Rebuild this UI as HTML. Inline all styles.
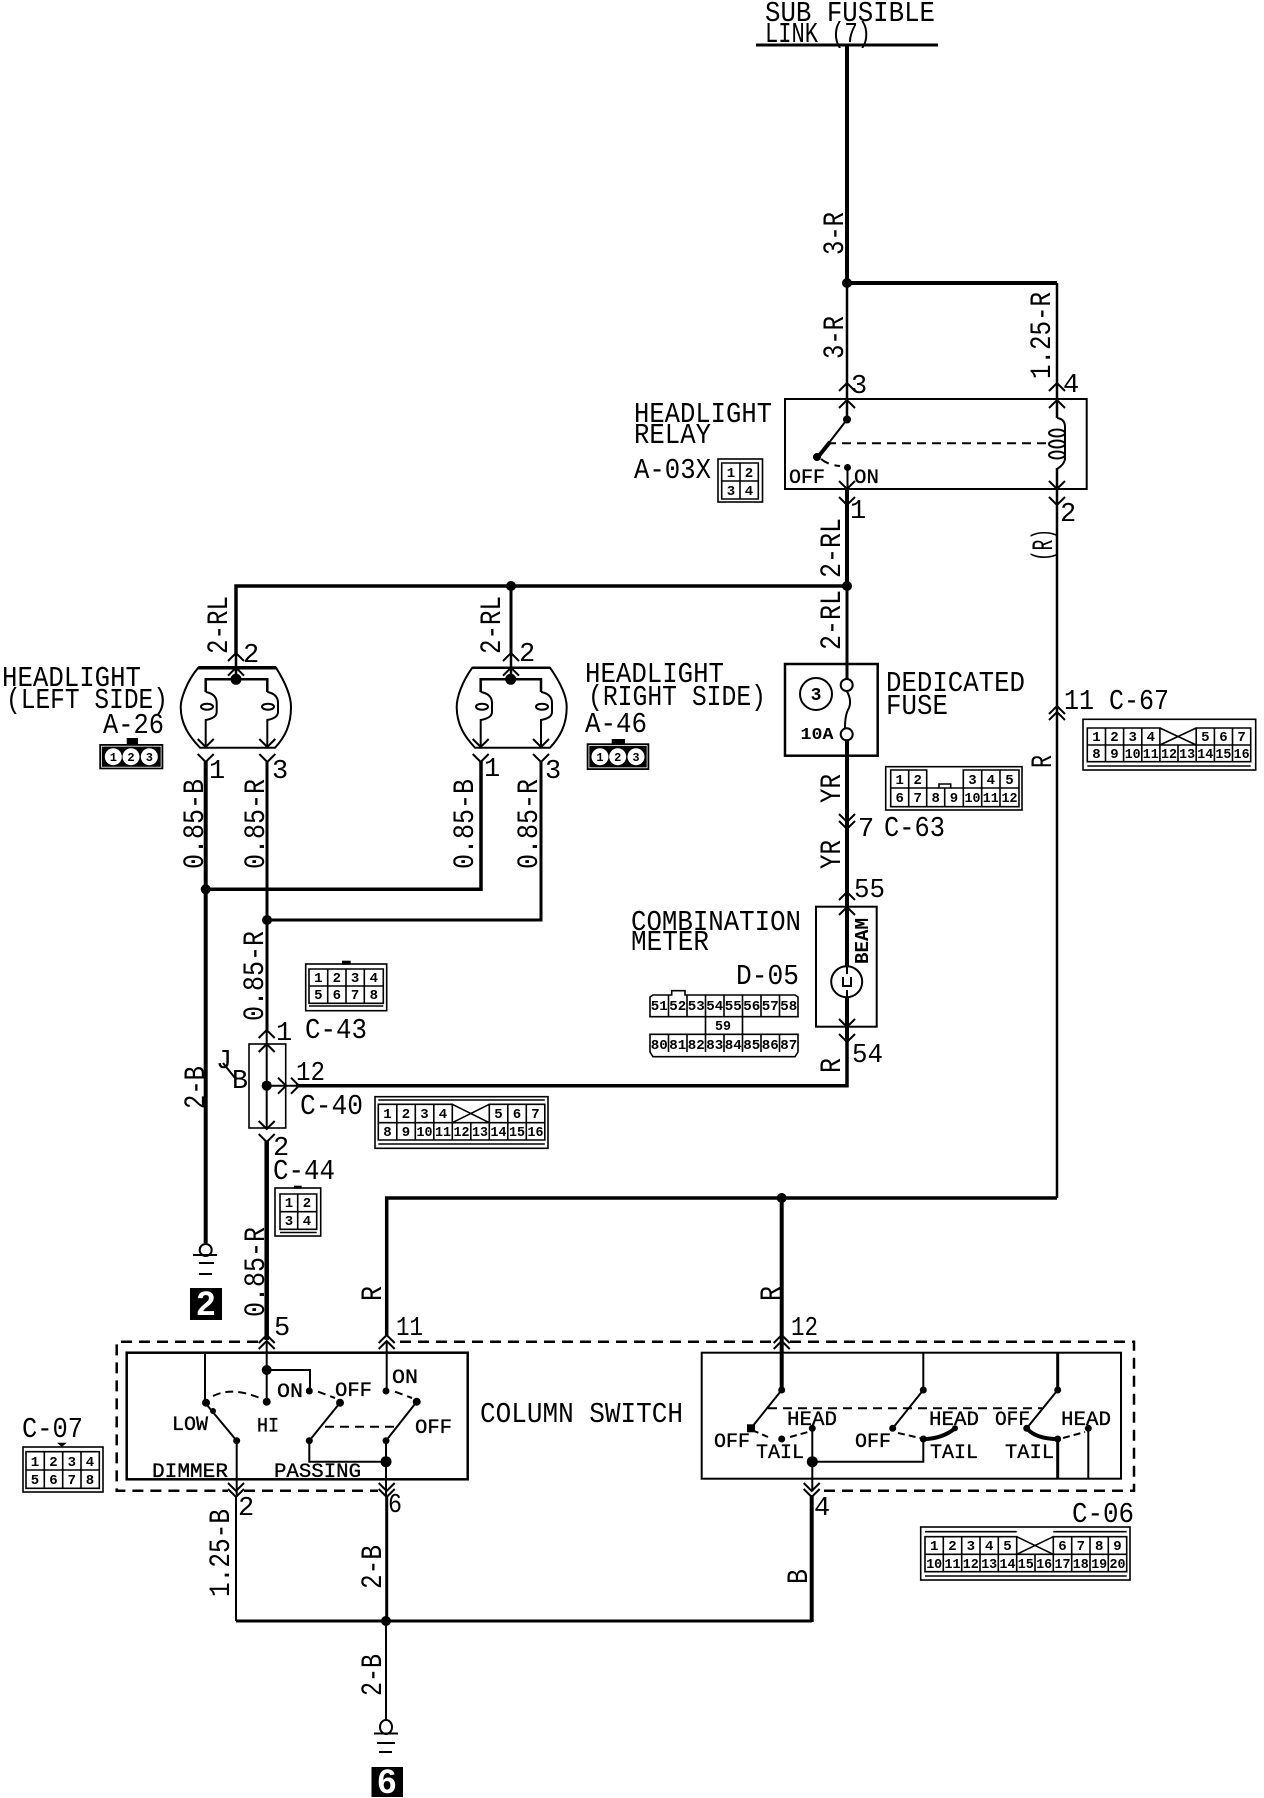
<!DOCTYPE html>
<html><head><meta charset="utf-8"><style>
html,body{margin:0;padding:0;background:#fff;width:1264px;height:1798px;overflow:hidden}
svg{display:block}
text{font-family:"Liberation Mono","DejaVu Sans Mono",monospace;fill:#000}
.l{font-size:29px}
.m{font-size:27px}
.s{font-size:20px;stroke:#000;stroke-width:.35px}
.r{font-size:30px}
.c{font-size:14px;font-weight:bold;text-anchor:middle}
.w{fill:none;stroke:#000;stroke-linejoin:miter}
.k{fill:#000;stroke:none}
.b{fill:none;stroke:#000;stroke-width:1.6}
.d{fill:none;stroke:#000;stroke-width:2;stroke-dasharray:9 6}
.a{fill:none;stroke:#000;stroke-width:2}
</style></head><body>
<svg xmlns="http://www.w3.org/2000/svg" width="1264" height="1798" viewBox="0 0 1264 1798">
<defs>
<path id="u" d="M-8 8L0 0L8 8" class="a"/>
<path id="n" d="M-8 -8L0 0L8 -8" class="a"/>
<path id="g" d="M9 -8L17 0L9 8" class="a"/>
</defs>
<rect width="1264" height="1798" fill="#fff"/>

<!-- wires -->
<g class="w">
<path stroke-width="3" d="M756 45H938"/>
<path stroke-width="4" d="M847 45V283H1057"/>
<path stroke-width="2.5" d="M847 283V420M1057 283V418"/>
<path stroke-width="4" d="M847 489V586"/>
<path stroke-width="3.5" d="M236 653V586H847"/>
<path stroke-width="3" d="M511 586V653"/>
<path stroke-width="3" d="M847 586V679"/>
<path stroke-width="4" d="M847 740V1042"/>
<path stroke-width="2" d="M847 892V965M847 998V1027"/>
<path stroke-width="3.5" d="M847 1042V1085.7H296"/>
<path stroke-width="2.5" d="M1057 468V1198"/>
<path stroke-width="3.5" d="M386.700 1335V1198H1057"/>
<path stroke-width="4" d="M781.700 1198V1390"/>
<path stroke-width="4" d="M205.700 761V1243"/>
<path stroke-width="3.500" d="M205.700 889.300H481V761"/>
<path stroke-width="3" d="M267 761V1030"/>
<path stroke-width="3" d="M267 920H541V761"/>
<path stroke-width="2" d="M266.700 1030V1129M266.700 1085.700H296"/>
<path stroke-width="4.500" d="M266.700 1141V1340"/>
<path stroke-width="2" d="M236 1497V1621M386 1621V1720"/>
<path stroke-width="3" d="M386.700 1495V1621M236 1621H811.700"/>
<path stroke-width="4" d="M811.700 1495V1622"/>
</g>

<!-- sub fusible link -->
<text class="l" x="765" y="21" textLength="170" lengthAdjust="spacingAndGlyphs">SUB FUSIBLE</text>
<text class="l" x="765" y="42" textLength="106" lengthAdjust="spacingAndGlyphs">LINK (7)</text>

<!-- wire labels -->
<text class="r" transform="translate(843 255) rotate(-90)" textLength="43" lengthAdjust="spacingAndGlyphs">3-R</text>
<text class="r" transform="translate(843 359) rotate(-90)" textLength="43" lengthAdjust="spacingAndGlyphs">3-R</text>
<text class="r" transform="translate(1050 379) rotate(-90)" textLength="87" lengthAdjust="spacingAndGlyphs">1.25-R</text>
<text class="r" transform="translate(840 578) rotate(-90)" textLength="60" lengthAdjust="spacingAndGlyphs">2-RL</text>
<text class="r" transform="translate(840 650) rotate(-90)" textLength="60" lengthAdjust="spacingAndGlyphs">2-RL</text>
<text class="r" transform="translate(1052 561) rotate(-90)" textLength="32" lengthAdjust="spacingAndGlyphs">(R)</text>
<text class="r" transform="translate(227 654) rotate(-90)" textLength="58" lengthAdjust="spacingAndGlyphs">2-RL</text>
<text class="r" transform="translate(500 654) rotate(-90)" textLength="58" lengthAdjust="spacingAndGlyphs">2-RL</text>
<text class="r" transform="translate(203 869) rotate(-90)" textLength="90" lengthAdjust="spacingAndGlyphs">0.85-B</text>
<text class="r" transform="translate(264 869) rotate(-90)" textLength="90" lengthAdjust="spacingAndGlyphs">0.85-R</text>
<text class="r" transform="translate(473 869) rotate(-90)" textLength="90" lengthAdjust="spacingAndGlyphs">0.85-B</text>
<text class="r" transform="translate(537 869) rotate(-90)" textLength="90" lengthAdjust="spacingAndGlyphs">0.85-R</text>
<text class="r" transform="translate(263 1021) rotate(-90)" textLength="90" lengthAdjust="spacingAndGlyphs">0.85-R</text>
<text class="r" transform="translate(204 1109) rotate(-90)" textLength="43" lengthAdjust="spacingAndGlyphs">2-B</text>
<text class="r" transform="translate(264 1317) rotate(-90)" textLength="90" lengthAdjust="spacingAndGlyphs">0.85-R</text>
<text class="r" transform="translate(381 1301) rotate(-90)" textLength="15" lengthAdjust="spacingAndGlyphs">R</text>
<text class="r" transform="translate(780 1301) rotate(-90)" textLength="15" lengthAdjust="spacingAndGlyphs">R</text>
<text class="r" transform="translate(840 803) rotate(-90)" textLength="29" lengthAdjust="spacingAndGlyphs">YR</text>
<text class="r" transform="translate(840 869) rotate(-90)" textLength="29" lengthAdjust="spacingAndGlyphs">YR</text>
<text class="r" transform="translate(840 1073) rotate(-90)" textLength="15" lengthAdjust="spacingAndGlyphs">R</text>
<text class="r" transform="translate(1051 768) rotate(-90)" textLength="13" lengthAdjust="spacingAndGlyphs">R</text>
<text class="r" transform="translate(229 1597) rotate(-90)" textLength="88" lengthAdjust="spacingAndGlyphs">1.25-B</text>
<text class="r" transform="translate(381 1589) rotate(-90)" textLength="44" lengthAdjust="spacingAndGlyphs">2-B</text>
<text class="r" transform="translate(381 1696) rotate(-90)" textLength="42" lengthAdjust="spacingAndGlyphs">2-B</text>
<text class="r" transform="translate(807 1584) rotate(-90)" textLength="15" lengthAdjust="spacingAndGlyphs">B</text>

<!-- relay -->
<rect x="785" y="399" width="301.700" height="90" class="w" stroke-width="2"/>
<use href="#u" x="847" y="383"/><use href="#u" x="847" y="400"/>
<use href="#u" x="1057" y="383"/><use href="#u" x="1057" y="400"/>
<use href="#n" x="847" y="489"/><use href="#n" x="847" y="505"/>
<use href="#n" x="1057" y="489"/><use href="#n" x="1057" y="505"/>
<circle cx="847" cy="419.500" r="4" class="k"/>
<path d="M847 419.500L818 457" class="a" stroke-width="2"/>
<path d="M830 442L818 457" class="w" stroke-width="4"/>
<circle cx="817" cy="457" r="4" class="k"/>
<circle cx="847.500" cy="467.500" r="3.500" class="k"/>
<path d="M847.500 467.500V489" class="a"/>
<path d="M827 443.300H1050" class="d"/>
<path d="M821 459Q828 465 840 466" class="d" stroke-dasharray="5 4"/>
<path d="M1057 418Q1065 419 1065 427V458Q1065 464 1057 469V489" class="a"/>
<ellipse cx="1057" cy="433" rx="8" ry="3.500" class="a"/>
<ellipse cx="1057" cy="444" rx="8" ry="3.500" class="a"/>
<ellipse cx="1057" cy="455" rx="8" ry="3.500" class="a"/>
<text class="s" x="789" y="483" textLength="36" lengthAdjust="spacingAndGlyphs">OFF</text>
<text class="s" x="854" y="483" textLength="25" lengthAdjust="spacingAndGlyphs">ON</text>
<text class="l" x="634" y="422" textLength="138" lengthAdjust="spacingAndGlyphs">HEADLIGHT</text>
<text class="l" x="634" y="443" textLength="77" lengthAdjust="spacingAndGlyphs">RELAY</text>
<text class="l" x="634" y="478" textLength="77" lengthAdjust="spacingAndGlyphs">A-03X</text>
<rect x="718" y="459" width="44.500" height="43" class="b"/>
<path d="M721.700 463H758.300V499H721.700ZM740 463V499M721.700 481H758.300" class="b"/>
<text class="c" x="731" y="477">1</text><text class="c" x="749" y="477">2</text>
<text class="c" x="731" y="495">3</text><text class="c" x="749" y="495">4</text>
<text class="m" x="851" y="393">3</text>
<text class="m" x="1063" y="392">4</text>
<text class="m" x="850" y="518">1</text>
<text class="m" x="1060" y="521">2</text>

<!-- junction dots -->
<g class="k">
<circle cx="847" cy="283" r="5"/><circle cx="847" cy="586" r="5"/><circle cx="511" cy="586" r="5"/>
<circle cx="205.700" cy="889.300" r="5"/><circle cx="267" cy="920" r="5"/>
<circle cx="266.700" cy="1085.700" r="5"/><circle cx="781.700" cy="1198" r="5"/><circle cx="386" cy="1621" r="5"/>
</g>

<!-- left headlight -->
<path d="M198.300 667.700C186 682 180.700 700 180.700 707C180.700 725 190 737 200 747.700H275C285 737 291 725 291 707C291 695 285 682 276 667.700Z" class="a"/>
<path d="M198.300 667.700H276" class="w" stroke-width="3.500"/>
<path d="M236 653V679M205.700 692V679.300H267.300V692" class="w" stroke-width="2.500"/>
<path d="M205.700 692Q216.700 694 216.700 703V712Q216.700 718 205.700 720V747M267.300 692Q278 694 278 703V712Q278 718 267.300 720V747" class="a"/>
<ellipse cx="207" cy="706.700" rx="6" ry="3" class="a"/><ellipse cx="268" cy="706.700" rx="6" ry="3" class="a"/>
<circle cx="236" cy="679.300" r="5.500" class="k"/>
<use href="#u" x="236" y="653"/><use href="#u" x="236" y="667.700"/>
<use href="#n" x="205.700" y="747"/><use href="#n" x="205.700" y="762"/>
<use href="#n" x="267.300" y="747"/><use href="#n" x="267.300" y="762"/>
<text class="m" x="243" y="662">2</text><text class="m" x="209" y="778">1</text><text class="m" x="272" y="778">3</text>
<text class="l" x="2" y="686" textLength="139" lengthAdjust="spacingAndGlyphs">HEADLIGHT</text>
<text class="l" x="6" y="708" textLength="162" lengthAdjust="spacingAndGlyphs">(LEFT SIDE)</text>
<text class="l" x="103" y="733" textLength="61" lengthAdjust="spacingAndGlyphs">A-26</text>
<rect x="99.300" y="744" width="64" height="25.300" class="k"/>
<rect x="101.500" y="746.200" width="59.600" height="21" fill="none" stroke="#fff" stroke-width=".8"/>
<rect x="126.700" y="738" width="11.300" height="6" class="k"/>
<circle cx="113.300" cy="756.700" r="8.500" fill="#fff"/><circle cx="131" cy="756.700" r="8.500" fill="#fff"/><circle cx="149.300" cy="756.700" r="8.500" fill="#fff"/>
<text class="c" x="113.300" y="761" style="font-size:12px">1</text><text class="c" x="131" y="761" style="font-size:12px">2</text><text class="c" x="149.300" y="761" style="font-size:12px">3</text>

<!-- right headlight -->
<path d="M472.300 667.700C462 682 456.700 697 456.700 707C456.700 725 465 737 475 747.700H550C560 737 566.700 725 566.700 707C566.700 695 560 682 550 667.700Z" class="a"/>
<path d="M472.300 667.700H550" class="w" stroke-width="2.500"/>
<path d="M511 653V679M480.700 692V679.300H541V692" class="w" stroke-width="2.500"/>
<path d="M480.700 692Q492 694 492 703V712Q492 718 480.700 720V747M541 692Q552 694 552 703V712Q552 718 541 720V747" class="a"/>
<ellipse cx="482" cy="706.700" rx="6" ry="3" class="a"/><ellipse cx="542" cy="706.700" rx="6" ry="3" class="a"/>
<circle cx="510.700" cy="679.300" r="5.500" class="k"/>
<use href="#u" x="511" y="653"/><use href="#u" x="511" y="667.700"/>
<use href="#n" x="480.700" y="747"/><use href="#n" x="480.700" y="762"/>
<use href="#n" x="541" y="747"/><use href="#n" x="541" y="762"/>
<text class="m" x="519" y="661">2</text><text class="m" x="484" y="776">1</text><text class="m" x="545" y="778">3</text>
<text class="l" x="585" y="682" textLength="139" lengthAdjust="spacingAndGlyphs">HEADLIGHT</text>
<text class="l" x="588" y="705" textLength="178" lengthAdjust="spacingAndGlyphs">(RIGHT SIDE)</text>
<text class="l" x="585" y="732" textLength="62" lengthAdjust="spacingAndGlyphs">A-46</text>
<rect x="586.700" y="743.300" width="62.600" height="26.700" class="k"/>
<rect x="588.900" y="745.500" width="58.200" height="22.300" fill="none" stroke="#fff" stroke-width=".8"/>
<rect x="611.700" y="739" width="13.300" height="5" class="k"/>
<circle cx="600" cy="756.700" r="8.500" fill="#fff"/><circle cx="617.700" cy="756.700" r="8.500" fill="#fff"/><circle cx="636" cy="756.700" r="8.500" fill="#fff"/>
<text class="c" x="600" y="761" style="font-size:12px">1</text><text class="c" x="617.700" y="761" style="font-size:12px">2</text><text class="c" x="636" y="761" style="font-size:12px">3</text>

<!-- fuse -->
<rect x="785" y="664" width="92.700" height="91.700" class="w" stroke-width="2.500"/>
<circle cx="816" cy="694" r="16" class="a"/>
<text class="c" x="816" y="700" style="font-size:18px">3</text>
<text class="c" x="817" y="739" style="font-size:17px" textLength="33" lengthAdjust="spacingAndGlyphs">10A</text>
<circle cx="846.700" cy="685" r="6" class="a"/><circle cx="846.700" cy="734.300" r="6" class="a"/>
<path d="M846.700 691Q852 700 849 708Q845 714 845 728" class="a"/>
<text class="l" x="886" y="691" textLength="139" lengthAdjust="spacingAndGlyphs">DEDICATED</text>
<text class="l" x="886" y="714" textLength="62" lengthAdjust="spacingAndGlyphs">FUSE</text>

<!-- C-63 -->
<use href="#n" x="847" y="822"/><use href="#n" x="847" y="829"/>
<text class="m" x="858" y="836">7</text>
<text class="l" x="884" y="836" textLength="61" lengthAdjust="spacingAndGlyphs">C-63</text>
<rect x="885.700" y="766.700" width="136.300" height="43.300" class="b"/>
<path d="M890.700 770H926.700V788H890.700ZM908.700 770V788M963.300 770H1019V788H963.300ZM981.700 770V788M1000 770V788M890.700 788H1019V806.700H890.700ZM908.700 788V806.700M926.700 788V806.700M944.700 788V806.700M963.300 788V806.700M981.700 788V806.700M1000 788V806.700M939 788V784H950.700V788" class="b"/>
<text class="c" x="899.700" y="784">1</text><text class="c" x="917.700" y="784">2</text><text class="c" x="972.500" y="784">3</text><text class="c" x="990.800" y="784">4</text><text class="c" x="1009.500" y="784">5</text>
<text class="c" x="899.700" y="802">6</text><text class="c" x="917.700" y="802">7</text><text class="c" x="935.700" y="802">8</text><text class="c" x="954" y="802">9</text><text class="c" x="972.500" y="802" textLength="16" lengthAdjust="spacingAndGlyphs">10</text><text class="c" x="990.800" y="802" textLength="16" lengthAdjust="spacingAndGlyphs">11</text><text class="c" x="1009.500" y="802" textLength="16" lengthAdjust="spacingAndGlyphs">12</text>

<!-- C-67 -->
<use href="#u" x="1057" y="706"/><use href="#u" x="1057" y="712"/>
<text class="l" x="1064" y="709" textLength="105" lengthAdjust="spacingAndGlyphs">11 C-67</text>
<rect x="1083" y="719.300" width="172.700" height="50.700" class="b"/>
<path d="M1087.300 728H1159.900V745H1087.300ZM1105.500 728V745M1123.600 728V745M1141.800 728V745M1196.200 728H1250.700V745H1196.200ZM1214.400 728V745M1232.500 728V745M1087.300 745H1250.700V761.700H1087.300ZM1105.500 745V761.700M1123.600 745V761.700M1141.800 745V761.700M1159.900 745V761.700M1178 745V761.700M1196.200 745V761.700M1214.400 745V761.700M1232.500 745V761.700M1159.900 728L1196.200 745M1159.900 745L1196.200 728M1087.300 766H1250.700" class="b"/>
<text class="c" x="1096.400" y="741">1</text><text class="c" x="1114.500" y="741">2</text><text class="c" x="1132.700" y="741">3</text><text class="c" x="1150.800" y="741">4</text><text class="c" x="1205.300" y="741">5</text><text class="c" x="1223.400" y="741">6</text><text class="c" x="1241.600" y="741">7</text>
<text class="c" x="1096.400" y="758">8</text><text class="c" x="1114.500" y="758">9</text><text class="c" x="1132.700" y="758" textLength="16" lengthAdjust="spacingAndGlyphs">10</text><text class="c" x="1150.800" y="758" textLength="16" lengthAdjust="spacingAndGlyphs">11</text><text class="c" x="1169" y="758" textLength="16" lengthAdjust="spacingAndGlyphs">12</text><text class="c" x="1187.100" y="758" textLength="16" lengthAdjust="spacingAndGlyphs">13</text><text class="c" x="1205.300" y="758" textLength="16" lengthAdjust="spacingAndGlyphs">14</text><text class="c" x="1223.400" y="758" textLength="16" lengthAdjust="spacingAndGlyphs">15</text><text class="c" x="1241.600" y="758" textLength="16" lengthAdjust="spacingAndGlyphs">16</text>

<!-- meter -->
<rect x="816" y="906.700" width="60.700" height="120" class="w" stroke-width="2"/>
<use href="#u" x="847" y="892"/><use href="#u" x="847" y="907"/>
<use href="#n" x="847" y="1027"/><use href="#n" x="847" y="1042"/>
<circle cx="846.700" cy="981.700" r="15.500" fill="#fff" stroke="#000" stroke-width="2"/>
<path d="M847 966V974M847 990V997M843 977V986H851V977" class="a"/>
<text transform="translate(868 964) rotate(-90)" style="font-size:19px;font-weight:bold" textLength="46" lengthAdjust="spacingAndGlyphs">BEAM</text>
<text class="m" x="854" y="897" textLength="31" lengthAdjust="spacingAndGlyphs">55</text>
<text class="m" x="852" y="1062" textLength="31" lengthAdjust="spacingAndGlyphs">54</text>
<text class="l" x="631" y="930" textLength="170" lengthAdjust="spacingAndGlyphs">COMBINATION</text>
<text class="l" x="631" y="950" textLength="78" lengthAdjust="spacingAndGlyphs">METER</text>
<text class="l" x="736" y="984" textLength="63" lengthAdjust="spacingAndGlyphs">D-05</text>
<path d="M650 1016.700V997L653 995H671.700V990.700H685V995H795L798 997V1016.700ZM668.500 995V1016.700M687 995V1016.700M705.500 995V1034.300M724 995V1016.700M742.500 995V1034.300M761 995V1016.700M779.500 995V1016.700M650 1034.300H798V1052L795 1056.700H653L650 1052ZM668.500 1034.300V1052M687 1034.300V1052M705.500 1034.300V1052M724 1034.300V1052M742.500 1034.300V1052M761 1034.300V1052M779.500 1034.300V1052" class="b"/>
<g>
<text class="c" x="659.300" y="1010" textLength="17" lengthAdjust="spacingAndGlyphs">51</text><text class="c" x="677.800" y="1010" textLength="17" lengthAdjust="spacingAndGlyphs">52</text><text class="c" x="696.300" y="1010" textLength="17" lengthAdjust="spacingAndGlyphs">53</text><text class="c" x="714.800" y="1010" textLength="17" lengthAdjust="spacingAndGlyphs">54</text><text class="c" x="733.300" y="1010" textLength="17" lengthAdjust="spacingAndGlyphs">55</text><text class="c" x="751.800" y="1010" textLength="17" lengthAdjust="spacingAndGlyphs">56</text><text class="c" x="770.300" y="1010" textLength="17" lengthAdjust="spacingAndGlyphs">57</text><text class="c" x="788.800" y="1010" textLength="17" lengthAdjust="spacingAndGlyphs">58</text>
<text class="c" x="723" y="1030" textLength="16" lengthAdjust="spacingAndGlyphs">59</text>
<text class="c" x="659.300" y="1049" textLength="17" lengthAdjust="spacingAndGlyphs">80</text><text class="c" x="677.800" y="1049" textLength="17" lengthAdjust="spacingAndGlyphs">81</text><text class="c" x="696.300" y="1049" textLength="17" lengthAdjust="spacingAndGlyphs">82</text><text class="c" x="714.800" y="1049" textLength="17" lengthAdjust="spacingAndGlyphs">83</text><text class="c" x="733.300" y="1049" textLength="17" lengthAdjust="spacingAndGlyphs">84</text><text class="c" x="751.800" y="1049" textLength="17" lengthAdjust="spacingAndGlyphs">85</text><text class="c" x="770.300" y="1049" textLength="17" lengthAdjust="spacingAndGlyphs">86</text><text class="c" x="788.800" y="1049" textLength="17" lengthAdjust="spacingAndGlyphs">87</text>
</g>

<!-- J/B -->
<rect x="249" y="1044" width="36.700" height="84" class="w" stroke-width="1.600"/>
<use href="#u" x="266.700" y="1030"/><use href="#u" x="266.700" y="1044"/>
<use href="#n" x="266.700" y="1129"/><use href="#n" x="266.700" y="1142"/>
<use href="#g" x="269" y="1085.700"/><use href="#g" x="282" y="1085.700"/>
<circle cx="266.700" cy="1085.700" r="5" class="k"/>
<text class="m" x="216" y="1068" textLength="16" lengthAdjust="spacingAndGlyphs">J</text>
<path d="M223 1063L235 1078" class="a"/>
<text class="m" x="232" y="1088" textLength="16" lengthAdjust="spacingAndGlyphs">B</text>
<text class="m" x="276" y="1040">1</text>
<text class="m" x="296" y="1080" textLength="29" lengthAdjust="spacingAndGlyphs">12</text>
<text class="m" x="273" y="1155">2</text>
<text class="l" x="305" y="1038" textLength="62" lengthAdjust="spacingAndGlyphs">C-43</text>
<text class="l" x="300" y="1114" textLength="63" lengthAdjust="spacingAndGlyphs">C-40</text>
<text class="l" x="273" y="1179" textLength="62" lengthAdjust="spacingAndGlyphs">C-44</text>

<!-- C-43 -->
<rect x="342" y="960.700" width="8.700" height="4" class="k"/>
<rect x="305.700" y="964" width="81" height="46.700" class="b"/>
<path d="M309 969H383.300V1003.300H309ZM327.700 969V1003.300M346 969V1003.300M364.300 969V1003.300M309 986H383.300M309 1006H383.300" class="b"/>
<text class="c" x="318.300" y="982">1</text><text class="c" x="336.800" y="982">2</text><text class="c" x="355.100" y="982">3</text><text class="c" x="373.800" y="982">4</text>
<text class="c" x="318.300" y="999">5</text><text class="c" x="336.800" y="999">6</text><text class="c" x="355.100" y="999">7</text><text class="c" x="373.800" y="999">8</text>

<!-- C-40 -->
<rect x="375" y="1096.700" width="173" height="51.600" class="b"/>
<path d="M378.300 1104.300H452.300V1122.700H378.300ZM396.800 1104.300V1122.700M415.300 1104.300V1122.700M433.800 1104.300V1122.700M489.300 1104.300H544.800V1122.700H489.300ZM507.800 1104.300V1122.700M526.300 1104.300V1122.700M378.300 1122.700H544.800V1140H378.300ZM396.800 1122.700V1140M415.300 1122.700V1140M433.800 1122.700V1140M452.300 1122.700V1140M470.800 1122.700V1140M489.300 1122.700V1140M507.800 1122.700V1140M526.300 1122.700V1140M452.300 1104.300L489.300 1122.700M452.300 1122.700L489.300 1104.300M378.300 1144H544.800M378.300 1100H544.800" class="b"/>
<text class="c" x="387.500" y="1118">1</text><text class="c" x="406" y="1118">2</text><text class="c" x="424.500" y="1118">3</text><text class="c" x="443" y="1118">4</text><text class="c" x="498.500" y="1118">5</text><text class="c" x="517" y="1118">6</text><text class="c" x="535.500" y="1118">7</text>
<text class="c" x="387.500" y="1136">8</text><text class="c" x="406" y="1136">9</text><text class="c" x="424.500" y="1136" textLength="16" lengthAdjust="spacingAndGlyphs">10</text><text class="c" x="443" y="1136" textLength="16" lengthAdjust="spacingAndGlyphs">11</text><text class="c" x="461.500" y="1136" textLength="16" lengthAdjust="spacingAndGlyphs">12</text><text class="c" x="480" y="1136" textLength="16" lengthAdjust="spacingAndGlyphs">13</text><text class="c" x="498.500" y="1136" textLength="16" lengthAdjust="spacingAndGlyphs">14</text><text class="c" x="517" y="1136" textLength="16" lengthAdjust="spacingAndGlyphs">15</text><text class="c" x="535.500" y="1136" textLength="16" lengthAdjust="spacingAndGlyphs">16</text>

<!-- C-44 -->
<rect x="294" y="1185.700" width="7.700" height="3" class="k"/>
<rect x="275" y="1188" width="45.700" height="48" class="b"/>
<path d="M280 1194H316.700V1229.300H280ZM297.700 1194V1229.300M280 1211.700H316.700M280 1232.500H316.700" class="b"/>
<text class="c" x="289" y="1207">1</text><text class="c" x="307" y="1207">2</text>
<text class="c" x="289" y="1225">3</text><text class="c" x="307" y="1225">4</text>

<!-- ground 2 -->
<circle cx="205.700" cy="1250" r="6" class="a"/>
<path d="M193 1255H217M199 1263H214M199 1274H212" class="a"/>
<rect x="190" y="1288" width="32" height="32" class="k"/>
<text x="206" y="1315" text-anchor="middle" style="font-family:'Liberation Sans',sans-serif;font-size:34px;font-weight:bold;fill:#fff">2</text>

<!-- ground 6 -->
<ellipse cx="386" cy="1727" rx="6" ry="7" class="a"/>
<path d="M374 1733.500H398M377 1743H395M379 1752H392" class="a"/>
<rect x="371.500" y="1767" width="31.500" height="30" class="k"/>
<text x="387" y="1793" text-anchor="middle" style="font-family:'Liberation Sans',sans-serif;font-size:34px;font-weight:bold;fill:#fff">6</text>

<!-- column switch dashed enclosure -->
<path d="M258 1341.700H116.700V1490.700H228M244 1490.700H378M400 1341.700H774M790 1341.700H1134V1490.700H820" class="w" stroke-width="2.500" stroke-dasharray="11 7"/>
<text class="l" x="480" y="1422" textLength="203" lengthAdjust="spacingAndGlyphs">COLUMN SWITCH</text>

<!-- left switch box -->
<rect x="126.700" y="1352.700" width="341" height="126.600" class="w" stroke-width="2.500"/>
<use href="#u" x="266.700" y="1335"/><use href="#u" x="266.700" y="1341"/>
<use href="#u" x="386.700" y="1335"/><use href="#u" x="386.700" y="1341"/>
<use href="#n" x="236" y="1491"/><use href="#n" x="236" y="1497"/>
<use href="#n" x="386.700" y="1491"/><use href="#n" x="386.700" y="1497"/>
<g class="w" stroke-width="2">
<path d="M205 1352.700V1402.700L236.700 1440.700V1495"/>
<path d="M266.700 1341V1401.700"/>
<path d="M266.700 1370H310V1391"/>
<path d="M340 1402.700L309.300 1440.700V1461.700H386"/>
<path d="M386.700 1341V1391"/>
<path d="M416.700 1401.700L386 1440.700V1495"/>
</g>
<path d="M213 1396Q233 1386 262 1399M318 1391.700L335 1398M395 1391.700L412 1398" class="a" stroke-dasharray="8 5"/>
<path d="M325 1426.700H395" class="d" stroke-width="1.500" stroke-dasharray="16 5"/>
<g class="k">
<circle cx="206" cy="1402.700" r="4"/><circle cx="213" cy="1411" r="3"/><circle cx="236.700" cy="1440.700" r="3.500"/>
<circle cx="266.700" cy="1370" r="5"/><circle cx="266.700" cy="1401.700" r="4"/><circle cx="309.300" cy="1391" r="3.500"/>
<circle cx="340" cy="1402.700" r="4"/><circle cx="309.300" cy="1440.700" r="3.500"/>
<circle cx="386" cy="1391" r="3.500"/><circle cx="416.700" cy="1401.700" r="4"/><circle cx="386" cy="1440.700" r="3.500"/>
<circle cx="386" cy="1461.700" r="5.500"/>
</g>
<text class="s" x="172" y="1430" textLength="36" lengthAdjust="spacingAndGlyphs">LOW</text>
<text class="s" x="257" y="1431.500" textLength="22" lengthAdjust="spacingAndGlyphs">HI</text>
<text class="s" x="277" y="1397" textLength="26" lengthAdjust="spacingAndGlyphs">ON</text>
<text class="s" x="335" y="1396" textLength="37" lengthAdjust="spacingAndGlyphs">OFF</text>
<text class="s" x="392" y="1383" textLength="26" lengthAdjust="spacingAndGlyphs">ON</text>
<text class="s" x="415" y="1433" textLength="37" lengthAdjust="spacingAndGlyphs">OFF</text>
<text class="s" x="152" y="1477" textLength="76" lengthAdjust="spacingAndGlyphs">DIMMER</text>
<text class="s" x="274" y="1477" textLength="87" lengthAdjust="spacingAndGlyphs">PASSING</text>
<text class="m" x="238" y="1515">2</text>
<text class="m" x="388" y="1512" textLength="14" lengthAdjust="spacingAndGlyphs">6</text>
<text class="m" x="274" y="1335">5</text>
<text class="m" x="396" y="1335" textLength="27" lengthAdjust="spacingAndGlyphs">11</text>
<text class="m" x="791" y="1335" textLength="27" lengthAdjust="spacingAndGlyphs">12</text>

<!-- C-07 -->
<text class="l" x="22" y="1437" textLength="61" lengthAdjust="spacingAndGlyphs">C-07</text>
<path d="M57 1442.700H66.700L61.800 1447Z" class="k"/>
<rect x="23" y="1447" width="80" height="45" class="b"/>
<path d="M26 1451.700H99.300V1488.300H26ZM44.300 1451.700V1488.300M62.700 1451.700V1488.300M81 1451.700V1488.300M26 1470H99.300" class="b"/>
<text class="c" x="35" y="1466">1</text><text class="c" x="53.500" y="1466">2</text><text class="c" x="71.800" y="1466">3</text><text class="c" x="90" y="1466">4</text>
<text class="c" x="35" y="1484">5</text><text class="c" x="53.500" y="1484">6</text><text class="c" x="71.800" y="1484">7</text><text class="c" x="90" y="1484">8</text>

<!-- right switch box -->
<rect x="701.700" y="1352.700" width="419.300" height="126" class="w" stroke-width="2"/>
<use href="#u" x="781.700" y="1335"/><use href="#u" x="781.700" y="1341"/>
<use href="#n" x="811.700" y="1491"/><use href="#n" x="811.700" y="1497"/>
<g class="w" stroke-width="2">
<path d="M781.700 1390L751 1428.300"/>
<path d="M923.300 1352.700V1390L892.700 1428.300"/>
<path d="M1057.700 1390L1026.700 1428.300"/>
<path d="M812.300 1428.300V1491"/>
<path d="M812.300 1461.700H923.300V1439"/>
<path d="M1088.300 1428.300V1478.700"/>
</g>
<path d="M1057.700 1352.700V1390M1057.700 1439V1478.700" class="w" stroke-width="3"/>
<path d="M923.300 1439Q942 1439 955 1428.300M1026.700 1428.300Q1036 1439 1057.700 1439" class="w" stroke-width="4"/>
<path d="M768 1408.300H1042" class="d"/>
<path d="M752 1430L768 1437M790 1437L808 1432M898 1433L920 1438M1063 1438L1085 1432" class="a" stroke-dasharray="7 4"/>
<g class="k">
<circle cx="781.700" cy="1390" r="3.500"/><rect x="747" y="1424.300" width="8" height="8"/><circle cx="781.700" cy="1439" r="3.500"/><circle cx="812.300" cy="1428.300" r="3.500"/>
<circle cx="812.300" cy="1461.700" r="5.500"/>
<circle cx="923.300" cy="1390" r="3.500"/><circle cx="892.700" cy="1428.300" r="3.500"/><circle cx="923.300" cy="1439" r="3.500"/><circle cx="955" cy="1428.300" r="3"/>
<circle cx="1057.700" cy="1390" r="3.500"/><circle cx="1026.700" cy="1428.300" r="3.500"/><circle cx="1057.700" cy="1439" r="3.500"/><circle cx="1088.300" cy="1428.300" r="3.500"/>
</g>
<text class="s" x="787" y="1425" textLength="50" lengthAdjust="spacingAndGlyphs">HEAD</text>
<text class="s" x="929" y="1425" textLength="50" lengthAdjust="spacingAndGlyphs">HEAD</text>
<text class="s" x="1061" y="1425" textLength="50" lengthAdjust="spacingAndGlyphs">HEAD</text>
<text class="s" x="714" y="1447" textLength="36" lengthAdjust="spacingAndGlyphs">OFF</text>
<text class="s" x="855" y="1447" textLength="36" lengthAdjust="spacingAndGlyphs">OFF</text>
<text class="s" x="995" y="1425" textLength="35" lengthAdjust="spacingAndGlyphs">OFF</text>
<text class="s" x="756" y="1458" textLength="48" lengthAdjust="spacingAndGlyphs">TAIL</text>
<text class="s" x="930" y="1458" textLength="48" lengthAdjust="spacingAndGlyphs">TAIL</text>
<text class="s" x="1005" y="1458" textLength="49" lengthAdjust="spacingAndGlyphs">TAIL</text>
<text class="m" x="814" y="1515">4</text>
<text class="l" x="1072" y="1522" textLength="62" lengthAdjust="spacingAndGlyphs">C-06</text>

<!-- C-06 -->
<rect x="920.700" y="1527" width="209.300" height="53" class="b"/>
<path d="M925 1536.700H1016.700V1554.300H925ZM943.300 1536.700V1554.300M961.700 1536.700V1554.300M980 1536.700V1554.300M998.300 1536.700V1554.300M1053.300 1536.700H1126.700V1554.300H1053.300ZM1071.700 1536.700V1554.300M1090 1536.700V1554.300M1108.300 1536.700V1554.300M925 1554.300H1126.700V1571.700H925ZM943.300 1554.300V1571.700M961.700 1554.300V1571.700M980 1554.300V1571.700M998.300 1554.300V1571.700M1016.700 1554.300V1571.700M1035 1554.300V1571.700M1053.300 1554.300V1571.700M1071.700 1554.300V1571.700M1090 1554.300V1571.700M1108.300 1554.300V1571.700M1016.700 1536.700L1053.300 1554.300M1016.700 1554.300L1053.300 1536.700M925 1576H1126.700M925 1531.700H1016.700M1053.300 1531.700H1126.700" class="b"/>
<text class="c" x="934.200" y="1550">1</text><text class="c" x="952.500" y="1550">2</text><text class="c" x="970.800" y="1550">3</text><text class="c" x="989.200" y="1550">4</text><text class="c" x="1007.500" y="1550">5</text><text class="c" x="1062.500" y="1550">6</text><text class="c" x="1080.800" y="1550">7</text><text class="c" x="1099.200" y="1550">8</text><text class="c" x="1117.500" y="1550">9</text>
<text class="c" x="934.200" y="1568" textLength="16" lengthAdjust="spacingAndGlyphs">10</text><text class="c" x="952.500" y="1568" textLength="16" lengthAdjust="spacingAndGlyphs">11</text><text class="c" x="970.800" y="1568" textLength="16" lengthAdjust="spacingAndGlyphs">12</text><text class="c" x="989.200" y="1568" textLength="16" lengthAdjust="spacingAndGlyphs">13</text><text class="c" x="1007.500" y="1568" textLength="16" lengthAdjust="spacingAndGlyphs">14</text><text class="c" x="1025.800" y="1568" textLength="16" lengthAdjust="spacingAndGlyphs">15</text><text class="c" x="1044.200" y="1568" textLength="16" lengthAdjust="spacingAndGlyphs">16</text><text class="c" x="1062.500" y="1568" textLength="16" lengthAdjust="spacingAndGlyphs">17</text><text class="c" x="1080.800" y="1568" textLength="16" lengthAdjust="spacingAndGlyphs">18</text><text class="c" x="1099.200" y="1568" textLength="16" lengthAdjust="spacingAndGlyphs">19</text><text class="c" x="1117.500" y="1568" textLength="16" lengthAdjust="spacingAndGlyphs">20</text>
</svg>
</body></html>
